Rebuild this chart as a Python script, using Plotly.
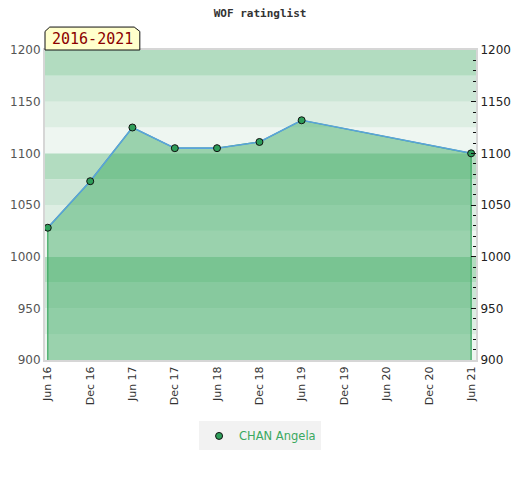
import plotly.graph_objects as go

# rating history (first of month)
DATES = ["2016-06-01", "2016-12-01", "2017-06-01", "2017-12-01",
         "2018-06-01", "2018-12-01", "2019-06-01", "2021-06-01"]
RATINGS = [1028, 1073, 1125, 1105, 1105, 1111, 1132, 1100]
PLAYER = "CHAN Angela"
TITLE = "WOF ratinglist"
PERIOD = "2016-2021"

Y_RANGE = [900, 1200]
X_RANGE = ["2016-05-20", "2021-06-22"]

# background bands, repeating every 100 points (top quarter darkest)
BAND_COLORS = ["#eef6f1", "#ddeee3", "#cce6d6", "#b2dcc0"]
BAND_STEP = 25

fig = go.Figure()

for i, lo in enumerate(range(Y_RANGE[0], Y_RANGE[1], BAND_STEP)):
    fig.add_shape(type="rect", xref="paper", x0=0, x1=1, yref="y", y0=lo, y1=lo + BAND_STEP,
                  fillcolor=BAND_COLORS[i % 4], line_width=0, layer="below")

# filled area down to the axis floor
fig.add_trace(go.Scatter(
    x=[DATES[0]] + DATES + [DATES[-1]],
    y=[Y_RANGE[0]] + RATINGS + [Y_RANGE[0]],
    mode="lines", fill="toself", fillcolor="rgba(51,166,90,0.45)",
    line=dict(color="#3aa860", width=1.2), hoverinfo="skip", showlegend=False,
))
fig.add_trace(go.Scatter(
    x=DATES, y=RATINGS, mode="lines",
    line=dict(color="#5aa2dc", width=1.6), hoverinfo="skip", showlegend=False,
))
fig.add_trace(go.Scatter(
    x=DATES, y=RATINGS, mode="markers", name=PLAYER,
    marker=dict(size=7, color="#2e9e5a", line=dict(color="#111", width=1)),
))
# invisible trace to carry the right-hand axis
fig.add_trace(go.Scatter(x=DATES[:1], y=RATINGS[:1], yaxis="y2", mode="markers",
                         marker=dict(opacity=0), hoverinfo="skip", showlegend=False))

# period tag above the plot, with clipped top corners
fig.add_shape(type="path", xref="paper", yref="paper",
              path="M 0,1 L 0,1.06 L 0.011,1.074 L 0.207,1.074 L 0.22,1.06 L 0.22,1 Z",
              fillcolor="#ffffcc", line=dict(color="#111", width=1))
fig.add_annotation(xref="paper", yref="paper", x=0.11, y=1.036, xanchor="center", yanchor="middle",
                   text=PERIOD, showarrow=False,
                   font=dict(family="DejaVu Sans Mono", size=15, color="#8b0000"))

# the page body adds an 8px offset, so the figure is sized to fit inside 520x480
fig.update_layout(
    width=512, height=472,
    margin=dict(l=37, r=44, t=42, b=120),
    paper_bgcolor="white", plot_bgcolor="white",
    title=dict(text="<b>" + TITLE + "</b>", x=0.499, xref="paper", xanchor="center",
               y=0.989, yanchor="middle",
               font=dict(family="DejaVu Sans Mono", size=11, color="#333")),
    font=dict(family="DejaVu Sans", size=12, color="#444"),
    xaxis=dict(type="date", range=X_RANGE, tick0=DATES[0], dtick="M6", tickformat="%b %y",
               tickangle=-90, showgrid=False, zeroline=False, ticks="", automargin=False,
               showline=True, linecolor="#d6d6d6", linewidth=2, mirror=True,
               tickfont=dict(size=11, color="#333")),
    yaxis=dict(range=Y_RANGE, dtick=50, showgrid=False, zeroline=False, ticks="",
               automargin=False, showline=True, linecolor="#d6d6d6", linewidth=2,
               tickfont=dict(size=12, color="#555")),
    yaxis2=dict(range=Y_RANGE, dtick=50, overlaying="y", side="right", showgrid=False,
                zeroline=False, ticks="inside", ticklen=5, tickcolor="#111", automargin=False,
                minor=dict(dtick=10, ticks="inside", ticklen=3, tickcolor="#111"),
                showline=True, linecolor="#d6d6d6", linewidth=2,
                tickfont=dict(size=12, color="#222")),
    showlegend=True,
    legend=dict(orientation="h", x=0.499, xanchor="center", y=-0.245, yanchor="middle",
                bgcolor="#f2f2f2", itemwidth=30, font=dict(size=11.5, color="#3aa860")),
    hovermode="closest",
)

fig.write_html("out.html")
